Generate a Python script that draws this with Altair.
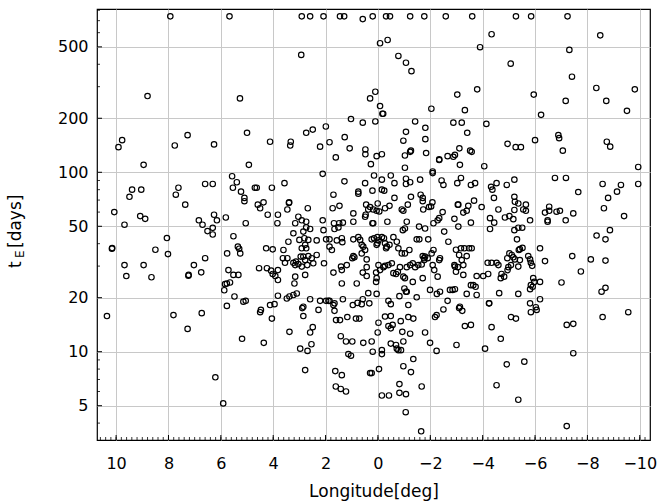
import altair as alt
import pandas as pd

# (longitude [deg], tE [days]), grouped by region
pts_top_row = [(7.93, 740), (5.67, 740), (2.91, 740), (2.59, 740), (2.08, 740), (1.45, 740), (1.29, 740),
               (0.58, 714), (0.20, 740), (-0.31, 740), (-0.46, 740), (-1.23, 740), (-1.77, 740), (-2.59, 740),
               (-3.60, 740), (-5.27, 740), (-5.85, 740), (-7.24, 740)]

pts_upper_left = [(8.80, 266), (5.27, 258), (9.77, 151), (9.91, 138), (7.76, 141), (7.27, 161), (6.26, 143),
                  (5.00, 166), (4.12, 148)]

pts_upper_mid = [(-0.08, 524), (-0.37, 546), (2.93, 451), (-0.78, 445), (-1.07, 408), (-1.28, 366), (0.10, 281),
                 (0.30, 258), (-0.08, 234), (-0.17, 212), (-0.20, 212), (-2.04, 226), (-3.03, 271), (1.03, 198),
                 (0.58, 189), (0.10, 192), (-1.42, 192), (-1.81, 177), (-2.88, 189), (1.99, 180), (2.49, 173),
                 (2.74, 166), (1.27, 157), (-1.07, 168), (-0.97, 150), (-1.81, 153), (3.33, 148), (3.35, 141),
                 (1.85, 147), (2.21, 139), (1.08, 136), (0.48, 134), (0.48, 126), (1.61, 121), (0.05, 123),
                 (-0.15, 126), (-1.03, 124), (-1.23, 130), (-1.26, 132), (-1.84, 128), (-2.34, 118), (-2.66, 123),
                 (-2.88, 122), (-2.94, 125), (-3.11, 136)]

pts_upper_right = [(-4.34, 588), (-8.49, 580), (-3.90, 498), (-7.31, 481), (-5.07, 403), (-7.41, 341), (-3.79, 290),
                   (-5.95, 271), (-8.34, 295), (-9.81, 290), (-7.17, 250), (-8.72, 250), (-9.51, 220), (-3.32, 222),
                   (-6.23, 209), (-3.20, 189), (-4.14, 186), (-3.41, 166), (-4.95, 144), (-5.26, 138), (-5.46, 138),
                   (-6.00, 151), (-6.89, 161), (-6.92, 155), (-7.06, 132), (-8.74, 148), (-8.87, 139), (-3.52, 132)]

pts_mid_left = [(8.95, 110), (4.93, 110), (5.57, 95), (5.39, 88), (6.60, 86), (6.31, 86), (7.62, 82), (7.72, 75),
                (9.39, 80), (9.04, 80), (9.49, 73), (7.36, 66), (5.54, 82), (5.23, 78), (5.10, 72), (5.10, 69),
                (4.70, 82), (4.63, 82), (4.05, 82), (4.37, 68), (4.59, 66), (4.50, 63), (4.21, 58), (3.82, 58),
                (10.07, 60), (9.68, 51), (9.08, 57), (8.89, 55), (6.26, 58), (5.81, 56), (6.84, 54), (6.70, 51),
                (6.15, 54), (5.05, 52), (3.84, 52), (6.51, 47), (6.31, 49), (6.31, 45), (8.06, 43), (5.52, 44),
                (10.16, 37.5), (10.15, 37.8), (8.50, 37), (8.02, 35), (5.35, 38.5), (5.30, 37.5), (5.76, 35.3),
                (5.26, 35.3), (4.27, 37.7), (4.02, 37.2), (6.60, 33.2), (9.68, 30.4), (8.95, 30.4), (7.03, 30.4),
                (9.61, 26.4), (8.65, 26), (7.24, 26.5), (7.23, 26.8), (6.75, 27.7), (5.71, 28.5), (5.52, 26.8),
                (5.33, 26.8), (4.54, 29.2), (4.24, 29.2), (4.08, 28.3), (4.02, 27.1), (3.92, 26.4), (3.82, 28.5),
                (3.82, 25.1), (5.77, 24), (5.84, 23.8), (5.65, 24.3), (5.87, 22), (5.48, 20.3), (5.14, 19),
                (5.05, 19.2), (5.77, 18), (3.95, 18.4), (3.82, 20.5), (4.47, 17.1)]

pts_mid_center = [(0.27, 111), (-1.03, 106), (-2.34, 117), (2.11, 98), (3.57, 87), (1.28, 89), (0.49, 87), (0.15, 96),
                  (-0.15, 91), (-0.49, 96), (-0.63, 87), (-1.07, 92), (-1.07, 86), (-1.23, 88), (-1.61, 91),
                  (-2.09, 101), (-2.09, 99), (-2.43, 90), (-2.50, 85), (-3.03, 87), (0.75, 78), (0.75, 76),
                  (1.70, 75), (0.21, 79), (-0.15, 80), (-0.24, 79), (-0.63, 72), (-1.26, 73), (-1.63, 75),
                  (-1.71, 72), (-1.71, 69), (-2.08, 68), (-3.05, 66), (3.39, 68), (3.40, 67.5), (3.46, 62),
                  (2.68, 63), (1.73, 63), (1.47, 65), (0.94, 59), (0.45, 66), (0.37, 62), (0.30, 64), (0.18, 62),
                  (0.05, 61), (0.01, 67), (-0.05, 60.5), (-0.27, 63), (-0.44, 65), (-0.91, 62), (-0.97, 61),
                  (-1.14, 66), (-1.73, 62), (-1.95, 64), (-2.03, 64.5), (-2.47, 60), (3.04, 56.5), (2.91, 54),
                  (2.74, 53), (3.16, 52), (2.11, 54), (1.68, 52), (1.48, 52), (1.34, 52.4), (0.94, 53), (0.49, 56.5),
                  (0.47, 58), (0.21, 52), (0.18, 52), (-0.36, 53), (-1.10, 53), (-1.57, 49.8), (-2.12, 52),
                  (-2.28, 54), (-2.34, 55.5), (-2.92, 55), (2.59, 48.3), (2.74, 49.3), (2.85, 46.7), (3.23, 45.7),
                  (3.42, 41), (3.61, 36.9), (3.00, 42), (2.81, 42.9), (2.66, 42), (2.78, 39.4), (2.74, 37.7),
                  (2.91, 37.7), (2.34, 41.7), (1.98, 42.3), (1.85, 42.3), (1.76, 36.9), (1.85, 38.5), (1.57, 41.7),
                  (1.38, 42.9), (1.36, 40.8), (2.08, 47.6), (1.66, 48.3), (1.51, 49.3), (0.94, 42.3), (0.75, 43.5),
                  (0.68, 42), (0.62, 39.4), (0.56, 38.5), (0.94, 34.1), (0.90, 33.6), (0.98, 33.2), (0.62, 35.3),
                  (0.49, 36.9), (0.43, 32.7), (0.24, 42.3), (0.15, 42.9), (0.02, 43.5), (-0.02, 41.7),
                  (-0.15, 43.5), (-0.23, 42.9), (-0.27, 40.2), (-0.31, 37.7), (-0.34, 38.5), (0.05, 39.4),
                  (0.02, 40.2), (-0.44, 39.4), (-0.59, 43.5), (-0.72, 41), (-0.78, 37.7), (-0.91, 35.3),
                  (-1.03, 35.3), (-1.20, 36.9), (-0.95, 47.6), (-1.03, 48.6), (-1.48, 42.3), (-1.58, 42.3),
                  (-1.80, 48.6), (-1.92, 42.3), (-2.12, 36.9), (-2.05, 35.3), (-2.69, 41), (-2.53, 46.7),
                  (-1.71, 34.1), (-1.76, 33.2), (-1.80, 33.9), (-2.37, 33.2), (-2.34, 32.4), (-2.98, 37)]

pts_low_center = [(3.63, 33.2), (3.55, 31.3), (3.46, 33.2), (3.23, 31.3), (3.16, 30.4), (3.04, 30.8), (3.13, 31.8),
                  (2.95, 33.9), (2.85, 33.9), (2.78, 32.4), (2.66, 34.1), (2.53, 33.2), (2.47, 31.1), (2.34, 34.6),
                  (2.91, 29.8), (2.78, 26.8), (2.70, 30.4), (2.06, 31.1), (3.16, 26.2), (3.19, 24), (1.70, 27.6),
                  (1.38, 28.5), (1.41, 29.8), (1.19, 30.4), (1.38, 24), (0.81, 24), (0.58, 27.6), (0.43, 26.4),
                  (0.43, 29.6), (-0.02, 30.4), (-0.08, 28.5), (-0.21, 29.6), (-0.27, 30.1), (-0.40, 30.4),
                  (-0.53, 31.1), (0.07, 27.6), (0.05, 25.7), (0.07, 24.5), (-0.59, 27.4), (-0.69, 27.1),
                  (-0.76, 27.9), (-0.84, 29.6), (-0.97, 26.2), (-1.03, 25.7), (-1.10, 29.6), (-1.23, 30.4),
                  (-1.33, 31.1), (-1.42, 29.6), (-1.54, 30.4), (-1.67, 30.6), (-1.77, 32.4), (-1.90, 33.2),
                  (-1.01, 22.5), (-1.07, 21.6), (-1.10, 21.6), (-1.33, 24.5), (-1.71, 25.7), (-2.09, 30.4),
                  (-2.15, 28.5), (-2.28, 26.2), (-2.92, 30.4), (-2.94, 29.8), (-2.98, 27.9), (4.12, 18.2),
                  (3.48, 19.8), (3.38, 20.3), (3.23, 20.7), (3.10, 21.1), (2.85, 17.8), (2.59, 19.6), (2.21, 19.2),
                  (1.98, 19.2), (1.89, 19.2), (1.85, 19.2), (1.70, 18.2), (1.34, 19.6), (0.96, 18.2), (0.78, 18.7),
                  (0.62, 18.4), (0.58, 19.6), (0.37, 21.2), (0.33, 18.6), (0.05, 21), (-0.40, 19.2), (-0.49, 18.4),
                  (-0.82, 20.4), (-1.16, 18.2), (-1.48, 20.1), (-1.99, 22.1), (-2.25, 21), (-2.37, 21.6),
                  (-2.66, 19.2), (-2.75, 22.1), (-2.85, 22.1)]

pts_mid_right = [(-3.58, 130), (-3.13, 110), (-4.06, 108), (-9.94, 107), (-9.94, 86), (-3.17, 93), (-3.55, 85),
                 (-3.71, 87), (-4.32, 83), (-4.37, 80), (-4.53, 87), (-4.92, 85), (-5.21, 91), (-4.43, 72),
                 (-5.21, 73), (-5.23, 68.5), (-5.36, 67), (-5.65, 66), (-5.55, 62), (-5.65, 61), (-5.21, 61.6),
                 (-4.60, 62), (-3.07, 66), (-3.45, 65), (-3.39, 61), (-3.26, 59.6), (-3.67, 69.5), (-3.96, 64),
                 (-3.07, 49.8), (-3.55, 52.4), (-4.28, 55.5), (-4.44, 52.4), (-4.28, 48.3), (-4.85, 56),
                 (-5.02, 57), (-5.17, 54.8), (-5.36, 49.1), (-5.51, 49.1), (-5.21, 47.6), (-5.81, 54),
                 (-6.38, 59.6), (-6.54, 64.3), (-6.54, 61), (-6.82, 60.3), (-6.95, 61), (-6.48, 54), (-6.48, 53),
                 (-7.17, 54), (-7.46, 59), (-6.76, 93), (-7.18, 93), (-7.65, 77.6), (-8.58, 86), (-9.28, 85),
                 (-9.13, 78), (-8.79, 72), (-8.63, 63), (-9.40, 57), (-8.86, 47.6), (-8.35, 44.4), (-8.69, 42.3)]

pts_low_right = [(-6.19, 37.7), (-7.42, 34.1), (-8.13, 32.7), (-8.69, 32.2), (-6.38, 32), (-7.75, 28), (-7.01, 24.3),
                 (-8.54, 21.6), (-8.69, 22.7), (-5.31, 42.3), (-5.42, 37.3), (-5.52, 37.9), (-5.38, 36.9),
                 (-5.02, 35.3), (-4.94, 33.2), (-5.11, 34.6), (-5.17, 33.6), (-5.23, 32.7), (-5.42, 32.4),
                 (-5.36, 29.8), (-4.98, 29.6), (-5.08, 30.4), (-4.95, 28.5), (-4.69, 25.7), (-4.82, 26.2),
                 (-4.72, 27.1), (-5.74, 34.1), (-5.81, 32.7), (-5.84, 31.3), (-5.89, 30.1), (-5.93, 25.7),
                 (-5.97, 24.5), (-6.19, 24.5), (-5.84, 23.5), (-5.81, 22.3), (-5.91, 23), (-6.19, 19.6),
                 (-5.81, 18.6), (-6.03, 17.7), (-5.36, 21), (-4.63, 21.2), (-4.25, 18.6), (-4.19, 31.3),
                 (-4.34, 31.3), (-4.53, 31.3), (-4.60, 30.4), (-4.21, 27.1), (-4.02, 26.4), (-3.77, 26.4),
                 (-3.26, 26.8), (-3.17, 37.7), (-3.30, 37.7), (-3.48, 37.7), (-3.58, 37.7), (-3.39, 34.1),
                 (-3.10, 34.6), (-3.20, 32.4), (-3.26, 30.4), (-3.05, 29.6), (-3.55, 23.5), (-3.64, 23.5),
                 (-3.73, 23), (-3.77, 20.7), (-3.39, 21), (-2.94, 22.3), (-3.13, 17.8)]

pts_bottom_left = [(10.35, 15.8), (7.81, 16), (6.73, 16.4), (7.27, 13.4), (4.50, 16.6), (4.05, 15.3), (5.19, 11.8),
                   (4.36, 11.2), (6.21, 7.2), (5.91, 5.15)]

pts_bottom_center = [(2.89, 17.5), (2.85, 15.8), (2.27, 17.1), (1.66, 18.6), (1.66, 16.9), (1.60, 15), (1.45, 15),
                     (1.17, 15.6), (0.84, 15.3), (0.71, 15.3), (-2.50, 17.2), (-2.24, 16), (-2.18, 15.6),
                     (3.38, 12.9), (2.59, 12.8), (2.49, 13.7), (2.54, 11), (2.97, 10.4), (2.69, 10.1), (2.78, 7.9),
                     (1.42, 12.2), (1.22, 11.4), (0.98, 11.4), (1.13, 9.7), (1.03, 9.5), (1.63, 7.8), (1.38, 7.4),
                     (1.61, 6.4), (1.42, 6.2), (1.22, 6.0), (0.56, 11.2), (0.24, 11.4), (-0.02, 14.5), (-0.27, 15.7),
                     (-0.49, 15.8), (-0.40, 13.9), (-0.56, 14.1), (-0.49, 13.5), (-0.87, 14.8), (-1.16, 15.6),
                     (-1.35, 15.3), (0.01, 12.8), (-0.93, 12.9), (-1.23, 12.6), (-1.80, 12.8), (0.20, 10),
                     (-0.15, 10.2), (-0.15, 9.7), (-0.49, 11.1), (-0.69, 10.9), (-0.72, 10.4), (-0.78, 10.2),
                     (-0.88, 10.2), (-0.97, 11.4), (-1.99, 11.2), (-2.24, 10.1), (-1.35, 9.1), (-0.97, 8.3),
                     (-1.26, 7.7), (0.30, 7.6), (0.24, 7.6), (-0.04, 8.0), (-0.82, 6.6), (-0.82, 5.9), (-1.07, 5.8),
                     (-0.15, 5.7), (-0.42, 5.7), (-1.67, 6.4), (-1.06, 4.6), (-1.65, 3.6), (-3.0, 10.9)]

pts_bottom_right = [(-3.10, 17.5), (-3.22, 16.9), (-4.24, 18.6), (-3.32, 13.9), (-3.55, 14.1), (-4.34, 13.7),
                    (-5.08, 15.6), (-5.27, 15.3), (-5.84, 16.6), (-6.06, 17.1), (-4.69, 11.8), (-4.09, 10.4),
                    (-4.92, 8.5), (-5.59, 8.8), (-4.53, 6.5), (-5.36, 5.4), (-7.21, 14.1), (-7.46, 14.3),
                    (-7.46, 9.8), (-8.58, 15.6), (-9.56, 16.6), (-7.21, 3.85)]

x_tick_values = [10, 8, 6, 4, 2, 0, -2, -4, -6, -8, -10]
y_tick_values = [5, 10, 20, 50, 100, 200, 500]
y_minor_values = [4, 6, 7, 8, 9, 30, 40, 60, 70, 80, 90, 300, 400, 600, 700, 800]
x_minor_values = [round(-10.2 + 0.2 * i, 1) for i in range(105)]
x_domain = [-10.39, 10.73]
y_domain = [3.22, 813]

W, H = 553, 431
FONT = "DejaVu Sans"

all_pts = (pts_top_row + pts_upper_left + pts_upper_mid + pts_upper_right + pts_mid_left + pts_mid_center
           + pts_low_center + pts_mid_right + pts_low_right + pts_bottom_left + pts_bottom_center
           + pts_bottom_right)
df = pd.DataFrame(all_pts, columns=["lon", "te"])

xscale = alt.Scale(domain=x_domain, reverse=True, nice=False, zero=False)
yscale = alt.Scale(type="log", domain=y_domain, nice=False)

x_axis = alt.Axis(values=x_tick_values, format="d", title="Longitude[deg]", grid=True,
                  ticks=False, domain=False, labelFontSize=16, titleFontSize=17,
                  labelPadding=15, titlePadding=12, labelFont=FONT, titleFont=FONT,
                  titleFontWeight="normal", labelColor="black", titleColor="black")
y_axis = alt.Axis(values=y_tick_values, format="d", title="", grid=True,
                  ticks=False, domain=False, labelFontSize=16, labelPadding=9,
                  labelFont=FONT, labelColor="black")

points = alt.Chart(df).mark_point(
    shape="circle", filled=False, color="black", size=30, strokeWidth=1.15, opacity=1
).encode(
    x=alt.X("lon:Q", scale=xscale, axis=x_axis),
    y=alt.Y("te:Q", scale=yscale, axis=y_axis),
)

xmaj = alt.Chart(pd.DataFrame({"lon": x_tick_values})).mark_rule(color="black", strokeWidth=1).encode(
    x=alt.X("lon:Q", scale=xscale, axis=x_axis), y=alt.value(H), y2=alt.value(H - 5))
xmin = alt.Chart(pd.DataFrame({"lon": x_minor_values})).mark_rule(color="black", strokeWidth=0.8).encode(
    x=alt.X("lon:Q", scale=xscale, axis=x_axis), y=alt.value(H), y2=alt.value(H - 3))
ymaj = alt.Chart(pd.DataFrame({"te": y_tick_values})).mark_rule(color="black", strokeWidth=1).encode(
    y=alt.Y("te:Q", scale=yscale, axis=y_axis), x=alt.value(0), x2=alt.value(5))
ymin = alt.Chart(pd.DataFrame({"te": y_minor_values})).mark_rule(color="black", strokeWidth=0.8).encode(
    y=alt.Y("te:Q", scale=yscale, axis=y_axis), x=alt.value(0), x2=alt.value(3))

title_t = alt.Chart(pd.DataFrame({"a": [0]})).mark_text(
    text="t", angle=270, align="left", baseline="alphabetic", fontSize=17, font=FONT, color="black"
).encode(x=alt.value(-76), y=alt.value(259))
title_e = alt.Chart(pd.DataFrame({"a": [0]})).mark_text(
    text="E", angle=270, align="left", baseline="alphabetic", fontSize=12, font=FONT, color="black"
).encode(x=alt.value(-73), y=alt.value(249))
title_days = alt.Chart(pd.DataFrame({"a": [0]})).mark_text(
    text="[days]", angle=270, align="left", baseline="alphabetic", fontSize=17, font=FONT, color="black"
).encode(x=alt.value(-76), y=alt.value(239))

chart = alt.layer(points, xmaj, xmin, ymaj, ymin, title_t, title_e, title_days).properties(
    width=W, height=H,
    autosize=alt.AutoSizeParams(type="none"),
    padding={"left": 97, "top": 9, "right": 12, "bottom": 64},
    background="white",
).configure_view(
    stroke="black", strokeWidth=1.2
).configure_axis(
    gridColor="#c8c8c8", gridWidth=1, gridOpacity=1
)

chart.save("out.html", embed_options={"renderer": "svg", "actions": False})
